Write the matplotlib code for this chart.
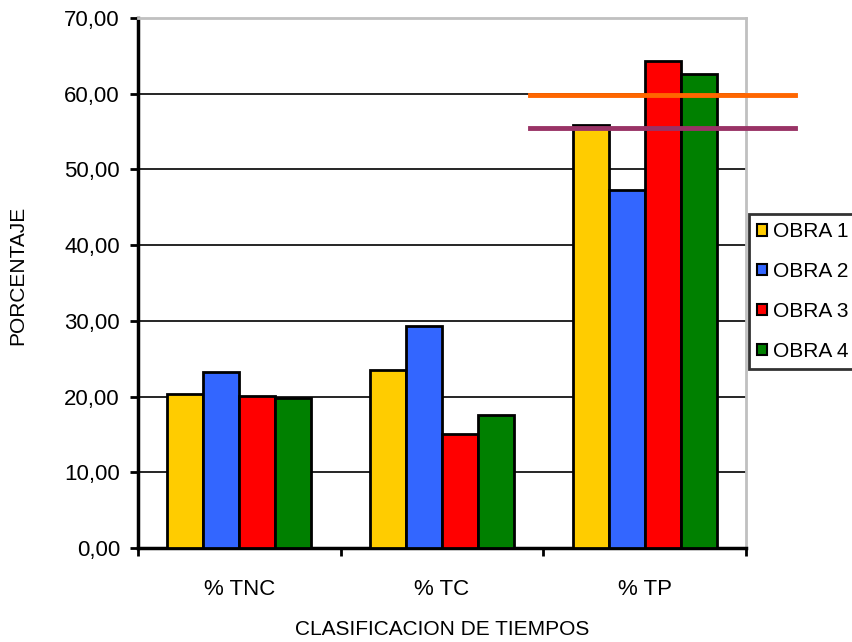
import matplotlib.pyplot as plt
import numpy as np

plt.rcParams['font.family'] = ['Liberation Sans', 'DejaVu Sans']

categorias = ['% TNC', '% TC', '% TP']
obras = ['OBRA 1', 'OBRA 2', 'OBRA 3', 'OBRA 4']
valores = [
    [20.4, 23.5, 55.9],   # OBRA 1
    [23.2, 29.3, 47.3],   # OBRA 2
    [20.1, 15.1, 64.3],   # OBRA 3
    [19.8, 17.6, 62.6],   # OBRA 4
]
colores = ['#FFCC00', '#3366FF', '#FF0000', '#008000']
lineas_ref = [59.8, 55.5]
colores_ref = ['#FF6600', '#993366']
yticks = [0, 10, 20, 30, 40, 50, 60, 70]

fig = plt.figure(figsize=(8.53, 6.42), dpi=100)
ax = fig.add_axes([138 / 853, 1 - 548 / 642, 608 / 853, 530 / 642])

x = np.arange(len(categorias))
ancho = 0.178
for i, (obra, vals) in enumerate(zip(obras, valores)):
    ax.bar(x + (i - 1.5) * ancho, vals, ancho, color=colores[i],
           edgecolor='black', linewidth=2, label=obra, zorder=3)

# lineas de referencia sobre % TP (salen del area del grafico)
for val, col in zip(lineas_ref, colores_ref):
    ax.plot([1.434, 2.741], [val, val], color=col, linewidth=3.5,
            clip_on=False, zorder=4)

ax.set_xlim(-0.5, 2.5)
ax.set_ylim(0, 70)
ax.set_yticks(yticks)
ax.set_yticklabels(['%d,00' % v for v in yticks], fontsize=16)
ax.set_xticks(x)
ax.set_xticklabels(categorias, fontsize=16)
ax.set_xticks([-0.5, 0.5, 1.5, 2.5], minor=True)
ax.tick_params(axis='x', which='major', length=0, pad=22)
ax.tick_params(axis='x', which='minor', length=6, width=2, direction='out')
ax.tick_params(axis='y', length=6, width=2, direction='out', pad=7)

ax.grid(axis='y', color='black', linewidth=1.2, zorder=0)
ax.set_axisbelow(True)

for s in ['left', 'bottom']:
    ax.spines[s].set_linewidth(2.5)
    ax.spines[s].set_color('black')
for s in ['top', 'right']:
    ax.spines[s].set_linewidth(2)
    ax.spines[s].set_color('#C0C0C0')

ax.set_ylabel('PORCENTAJE', fontsize=15)
ax.yaxis.set_label_coords(-0.182, 0.515)
ax.set_xlabel('CLASIFICACION DE TIEMPOS', fontsize=15, labelpad=15)

leg = ax.legend(loc='upper left', bbox_to_anchor=(1.005, 0.630), fontsize=15,
                frameon=True, fancybox=False, handlelength=0.45,
                handleheight=0.45, handletextpad=0.3, labelspacing=1.0,
                borderpad=0.4, borderaxespad=0)
leg.get_frame().set_edgecolor('black')
leg.get_frame().set_linewidth(2)
for h in leg.legend_handles:
    h.set_linewidth(1.5)

fig.savefig('out.png', dpi=100)
